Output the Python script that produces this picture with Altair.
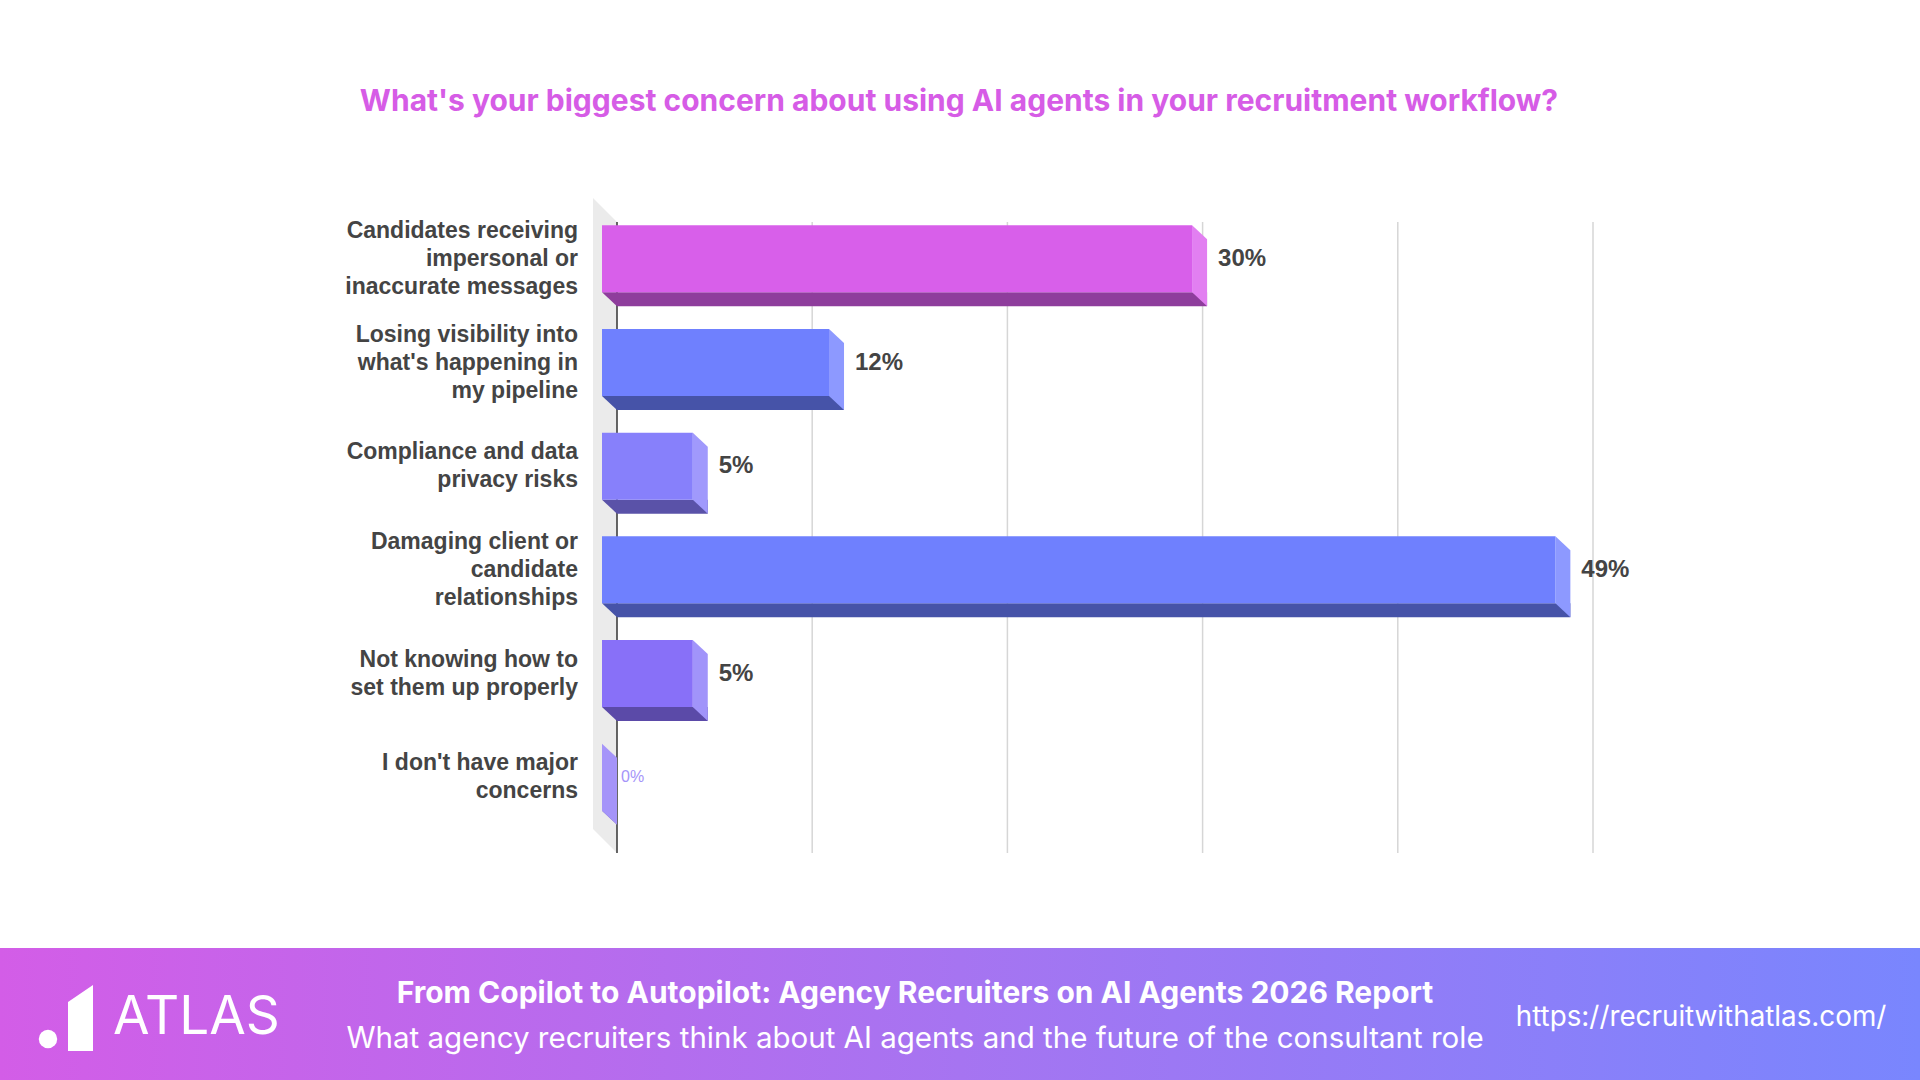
import altair as alt
import pandas as pd

# ---------------- data ----------------
categories = [
    "Candidates receiving\nimpersonal or\ninaccurate messages",
    "Losing visibility into\nwhat's happening in\nmy pipeline",
    "Compliance and data\nprivacy risks",
    "Damaging client or\ncandidate\nrelationships",
    "Not knowing how to\nset them up properly",
    "I don't have major\nconcerns",
]
values = [30.23, 11.63, 4.65, 48.84, 4.65, 0.0]
value_labels = ["30%", "12%", "5%", "49%", "5%", "0%"]
front_colors = ["#D85FEA", "#6F80FE", "#8780FB", "#6F80FE", "#8870F8", "#A594F9"]
bottom_colors = ["#8E3D9C", "#4653A8", "#5A52A8", "#4653A8", "#5B4AA8", "#6E5FB0"]
side_colors = ["#E27FF1", "#8D99FF", "#A099FC", "#8D99FF", "#A194FA", "#A594F9"]
grid_ticks = [10, 20, 30, 40, 50]

title_text = "What's your biggest concern about using AI agents in your recruitment workflow?"
footer_title = "From Copilot to Autopilot: Agency Recruiters on AI Agents 2026 Report"
footer_sub = "What agency recruiters think about AI agents and the future of the consultant role"
footer_url = "https://recruitwithatlas.com/"
brand = "ATLAS"

df = pd.DataFrame({
    "cat": categories,
    "nl": [c.count("\n") + 1 for c in categories],
    "v": values,
    "z": [0.0] * len(values),
    "lab": value_labels,
    "front": front_colors,
    "bottom": bottom_colors,
    "side": side_colors,
})
grid_df = pd.DataFrame({"t": grid_ticks})
one = pd.DataFrame({"a": [0]})

# ---------------- geometry ----------------
OX, OY = 617, 221          # plot origin on the canvas
W, HT = 976, 622           # plot area
BT = 67                    # bar thickness
D = 15                     # 3D depth x
E = 14                     # 3D depth y
H = BT / 2
LH = 28                    # label line height

xs = alt.Scale(domain=[0, 50], nice=False, zero=True)
ys = alt.Scale(type="band", domain=categories, paddingInner=0.35, paddingOuter=0.175)
X = alt.X("v:Q", scale=xs, axis=None)
Y = alt.Y("cat:N", scale=ys, axis=None)

grad = alt.Gradient(
    gradient="linear",
    stops=[alt.GradientStop(color="#D35DE7", offset=0),
           alt.GradientStop(color="#A674F1", offset=0.5),
           alt.GradientStop(color="#7986FE", offset=1)],
    x1=0, x2=1, y1=0, y2=0,
)
footer_bg = alt.Chart(one).mark_rect(fill=grad).encode(
    x=alt.value(0 - OX), x2=alt.value(1920 - OX),
    y=alt.value(948 - OY), y2=alt.value(1080 - OY)
)

wall = alt.Chart(one).mark_point(
    shape="M-24,-24 L0,0 L0,631 L-24,607 Z", size=4, filled=True,
    fill="#EBEBEB", strokeWidth=0, opacity=1
).encode(x=alt.X("a:Q", scale=xs, axis=None), y=alt.value(1))

grid = alt.Chart(grid_df).mark_rule(color="#D6D6D6", strokeWidth=1.5).encode(
    x=alt.X("t:Q", scale=xs, axis=None), y=alt.value(1), y2=alt.value(632)
)
axis_line = alt.Chart(one).mark_rule(color="#333333", strokeWidth=1.5).encode(
    x=alt.X("a:Q", scale=xs, axis=None), y=alt.value(1), y2=alt.value(632)
)

bottom_face = alt.Chart(df).mark_bar(size=E, yOffset=H - E / 2).encode(
    x=X, x2="z:Q", y=Y, color=alt.Color("bottom:N", scale=None)
)
left_tri = alt.Chart(df).mark_point(
    shape=f"M{-D},{H - E} L0,{H - E} L0,{H} Z", size=4, filled=True,
    strokeWidth=0, opacity=1
).encode(x=alt.X("z:Q", scale=xs, axis=None), y=Y,
         color=alt.Color("bottom:N", scale=None))
side_face = alt.Chart(df).mark_point(
    shape=f"M{-D},{-H - E} L0,{-H} L0,{H} L{-D},{H - E} Z", size=4, filled=True,
    strokeWidth=0, opacity=1
).encode(x=X, y=Y, color=alt.Color("side:N", scale=None))
front_face = alt.Chart(df).mark_bar(
    size=BT, xOffset=-D, x2Offset=-D, yOffset=-E
).encode(x=X, x2="z:Q", y=Y, color=alt.Color("front:N", scale=None))

val_labels = alt.Chart(df).transform_filter("datum.v > 0").mark_text(
    align="left", baseline="middle", dx=11, dy=-E,
    font="Liberation Sans", fontWeight="bold", fontSize=24, color="#444444"
).encode(x=X, y=Y, text="lab:N")
zero_labels = alt.Chart(df).transform_filter("datum.v == 0").mark_text(
    align="left", baseline="middle", dx=4, dy=-E,
    font="Liberation Sans", fontSize=16, color="#A594F9"
).encode(x=X, y=Y, text="lab:N")


def cat_layer(n):
    return alt.Chart(df).transform_filter(f"datum.nl == {n}").mark_text(
        align="right", baseline="middle", dy=-E - (n - 1) * LH / 2,
        lineBreak="\n", lineHeight=LH,
        font="Liberation Sans", fontWeight="bold", fontSize=23, color="#444444"
    ).encode(x=alt.value(578 - OX), y=Y, text="cat:N")


cat_labels = [cat_layer(n) for n in (1, 2, 3)]

title = alt.Chart(one).mark_text(
    text=title_text, align="center", baseline="middle",
    font="Inter", fontWeight="bold", fontSize=30, color="#D65CE6"
).encode(x=alt.value(959 - OX), y=alt.value(102 - OY))

f_title = alt.Chart(one).mark_text(
    text=footer_title, align="center", baseline="middle",
    font="Inter", fontWeight="bold", fontSize=30, color="white"
).encode(x=alt.value(915 - OX), y=alt.value(994 - OY))
f_sub = alt.Chart(one).mark_text(
    text=footer_sub, align="center", baseline="middle",
    font="Inter", fontSize=29.5, color="white"
).encode(x=alt.value(915 - OX), y=alt.value(1039 - OY))
f_url = alt.Chart(one).mark_text(
    text=footer_url, align="center", baseline="middle",
    font="Inter", fontSize=27.8, color="white"
).encode(x=alt.value(1701 - OX), y=alt.value(1018 - OY))
f_brand = alt.Chart(one).mark_text(
    text=brand, align="left", baseline="middle",
    font="Inter", fontSize=53, color="white"
).encode(x=alt.value(113 - OX), y=alt.value(1018 - OY))
logo_dot = alt.Chart(one).mark_point(
    shape="circle", size=340, filled=True, fill="white", strokeWidth=0, opacity=1
).encode(x=alt.value(48 - OX), y=alt.value(1039 - OY))
logo_bar = alt.Chart(one).mark_point(
    shape="M0,17 L25,0 L25,66 L0,66 Z", size=4, filled=True,
    fill="white", strokeWidth=0, opacity=1
).encode(x=alt.value(68 - OX), y=alt.value(985 - OY))

chart = alt.layer(
    footer_bg, wall, grid, axis_line,
    bottom_face, left_tri, side_face, front_face,
    val_labels, zero_labels, *cat_labels,
    title, f_title, f_sub, f_url, f_brand, logo_dot, logo_bar,
).properties(
    width=W, height=HT,
    autosize=alt.AutoSizeParams(type="none"),
    padding={"left": OX, "top": OY, "right": 1920 - OX - W, "bottom": 1080 - OY - HT},
    background="white",
).configure_view(stroke=None)

chart.save("out.html", embed_options={"renderer": "svg", "actions": False})
